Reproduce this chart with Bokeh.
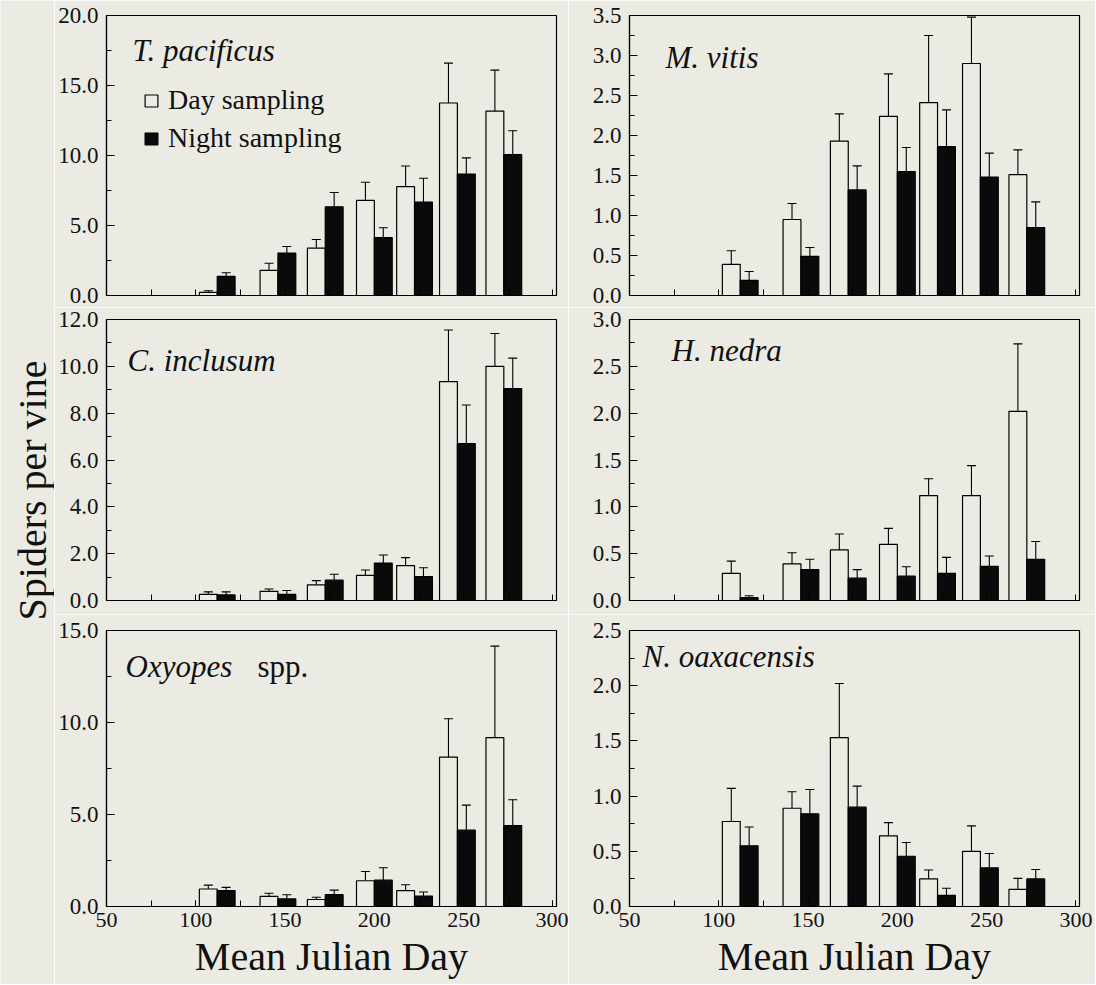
import math
from bokeh.plotting import figure
from bokeh.layouts import row, column
from bokeh.models import (Range1d, SingleIntervalTicker, FixedTicker, PrintfTickFormatter,
                          ColumnDataSource, Whisker, TeeHead, Label, Legend, LegendItem)
from bokeh.embed import file_html
from bokeh.resources import INLINE

# ---------------- data ----------------
julian_day = [112, 146, 172.5, 200, 222.5, 246.5, 272.5]

tp_day = [0.22, 1.79, 3.39, 6.80, 7.77, 13.75, 13.17]
tp_day_se = [0.12, 0.51, 0.61, 1.29, 1.48, 2.85, 2.93]
tp_night = [1.36, 3.03, 6.34, 4.14, 6.68, 8.67, 10.07]
tp_night_se = [0.26, 0.47, 1.02, 0.70, 1.70, 1.16, 1.70]

mv_day = [0.39, 0.95, 1.93, 2.24, 2.41, 2.90, 1.51]
mv_day_se = [0.17, 0.20, 0.34, 0.53, 0.84, 0.58, 0.31]
mv_night = [0.19, 0.49, 1.32, 1.55, 1.86, 1.48, 0.85]
mv_night_se = [0.11, 0.11, 0.30, 0.30, 0.46, 0.30, 0.32]

ci_day = [0.26, 0.39, 0.67, 1.07, 1.49, 9.35, 10.0]
ci_day_se = [0.11, 0.10, 0.18, 0.23, 0.34, 2.20, 1.40]
ci_night = [0.24, 0.26, 0.87, 1.60, 1.02, 6.70, 9.05]
ci_night_se = [0.13, 0.17, 0.25, 0.34, 0.38, 1.65, 1.30]

hn_day = [0.29, 0.39, 0.54, 0.60, 1.12, 1.12, 2.02]
hn_day_se = [0.13, 0.12, 0.17, 0.17, 0.18, 0.32, 0.72]
hn_night = [0.03, 0.33, 0.24, 0.26, 0.29, 0.365, 0.44]
hn_night_se = [0.02, 0.11, 0.09, 0.10, 0.17, 0.11, 0.19]

ox_day = [0.95, 0.55, 0.38, 1.40, 0.86, 8.12, 9.18]
ox_day_se = [0.21, 0.17, 0.12, 0.50, 0.32, 2.08, 4.97]
ox_night = [0.86, 0.41, 0.64, 1.43, 0.57, 4.15, 4.40]
ox_night_se = [0.18, 0.23, 0.25, 0.68, 0.22, 1.36, 1.40]

no_day = [0.77, 0.89, 1.53, 0.64, 0.25, 0.50, 0.155]
no_day_se = [0.30, 0.15, 0.49, 0.12, 0.08, 0.23, 0.10]
no_night = [0.55, 0.84, 0.90, 0.455, 0.10, 0.35, 0.25]
no_night_se = [0.17, 0.22, 0.19, 0.125, 0.065, 0.13, 0.085]

legend_labels = ["Day sampling", "Night sampling"]
x_title = "Mean Julian Day"
y_title = "Spiders per vine"

# ---------------- style ----------------
BG = "#ebebe3"
INK = "#111111"
FONT = "Liberation Serif"
BAR_W = 10
X0, X1 = 50, 302
FRAME_W = 450
PX_PER_DAY = FRAME_W / (X1 - X0)


def make_panel(day_m, day_se, night_m, night_se, ymax, major, width, height,
               bl, br, bt, bb, bottom, title, title_px, title_frac, extra=None):
    p = figure(width=width, height=height, x_range=Range1d(X0, X1), y_range=Range1d(0, ymax),
               output_backend="svg", toolbar_location=None,
               min_border_left=bl, min_border_right=br, min_border_top=bt, min_border_bottom=bb,
               background_fill_color=BG, border_fill_color=BG,
               outline_line_color="black", outline_line_width=1.2)
    p.grid.visible = False
    src = ColumnDataSource(dict(
        xd=[j - BAR_W / 2 for j in julian_day],
        xn=[j + BAR_W / 2 for j in julian_day],
        dm=day_m, dh=[m + s for m, s in zip(day_m, day_se)],
        nm=night_m, nh=[m + s for m, s in zip(night_m, night_se)],
    ))
    rd = p.vbar(x="xd", top="dm", width=BAR_W, bottom=0, source=src,
                fill_color=BG, line_color="black", line_width=1.2)
    rn = p.vbar(x="xn", top="nm", width=BAR_W, bottom=0, source=src,
                fill_color="#0a0a0a", line_color="black", line_width=1.2)
    for base, lo, hi in (("xd", "dm", "dh"), ("xn", "nm", "nh")):
        w = Whisker(source=src, base=base, lower=lo, upper=hi,
                    upper_head=TeeHead(size=9, line_color="black", line_width=1.1),
                    lower_head=None, line_color="black", line_width=1.1)
        p.add_layout(w)

    # y axis
    ya = p.yaxis[0]
    ya.ticker = SingleIntervalTicker(interval=major, num_minor_ticks=2)
    ya.formatter = PrintfTickFormatter(format="%.1f")
    ya.major_tick_in = 8
    ya.major_tick_out = 0
    ya.minor_tick_in = 5
    ya.minor_tick_out = 0
    ya.major_label_text_font = FONT
    ya.major_label_text_font_size = "23px"
    ya.major_label_text_color = INK
    ya.major_label_standoff = 8
    ya.axis_line_color = "black"
    ya.axis_line_width = 1.2
    # x axis
    xa = p.xaxis[0]
    xa.major_tick_in = 6
    xa.major_tick_out = 0
    xa.minor_tick_in = 6
    xa.minor_tick_out = 0
    xa.axis_line_color = "black"
    xa.axis_line_width = 1.2
    if bottom:
        xa.ticker = SingleIntervalTicker(interval=50, num_minor_ticks=2)
        xa.major_label_text_font = FONT
        xa.major_label_text_font_size = "22px"
        xa.major_label_text_color = INK
        xa.major_label_standoff = 6
        xa.axis_label = x_title
        xa.axis_label_text_font = FONT
        xa.axis_label_text_font_size = "40px"
        xa.axis_label_text_font_style = "normal"
        xa.axis_label_text_color = INK
        xa.axis_label_standoff = 4
    else:
        xa.ticker = FixedTicker(ticks=[], minor_ticks=list(range(X0, 301, 25)))

    tx = X0 + title_px / PX_PER_DAY
    ty = ymax * (1 - title_frac)
    p.add_layout(Label(x=tx, y=ty, text=title, text_font=FONT, text_font_size="31px",
                       text_font_style="italic", text_color=INK,
                       text_baseline="alphabetic", text_align="left"))
    if extra is not None:
        ex_text, ex_px = extra
        p.add_layout(Label(x=X0 + ex_px / PX_PER_DAY, y=ty, text=ex_text, text_font=FONT,
                           text_font_size="31px", text_color=INK,
                           text_baseline="alphabetic", text_align="left"))
    return p, rd, rn


TW = 54
LBL, LBR, RBL, RBR = 52, 12, 61, 16
LW = LBL + FRAME_W + LBR
RW = RBL + FRAME_W + RBR
H1 = 15 + 280 + 12
H2 = 12 + 281 + 14
H3 = 16 + 276 + 78

p1, rd1, rn1 = make_panel(tp_day, tp_day_se, tp_night, tp_night_se, 20, 5, LW, H1,
                          LBL, LBR, 15, 12, False, "T. pacificus", 26, 0.125)
p2, _, _ = make_panel(mv_day, mv_day_se, mv_night, mv_night_se, 3.5, 0.5, RW, H1,
                      RBL, RBR, 15, 12, False, "M. vitis", 36, 0.151)
p3, _, _ = make_panel(ci_day, ci_day_se, ci_night, ci_night_se, 12, 2, LW, H2,
                      LBL, LBR, 12, 14, False, "C. inclusum", 21, 0.145)
p4, _, _ = make_panel(hn_day, hn_day_se, hn_night, hn_night_se, 3, 0.5, RW, H2,
                      RBL, RBR, 12, 14, False, "H. nedra", 42, 0.111)
p5, _, _ = make_panel(ox_day, ox_day_se, ox_night, ox_night_se, 15, 5, LW, H3,
                      LBL, LBR, 16, 78, True, "Oxyopes", 19, 0.131, extra=("spp.", 151))
p6, _, _ = make_panel(no_day, no_day_se, no_night, no_night_se, 2.5, 0.5, RW, H3,
                      RBL, RBR, 16, 78, True, "N. oaxacensis", 13, 0.096)

legend = Legend(items=[LegendItem(label=legend_labels[0], renderers=[rd1]),
                       LegendItem(label=legend_labels[1], renderers=[rn1])],
                location=(37, 141), orientation="vertical",
                label_text_font=FONT, label_text_font_size="28px", label_text_color=INK,
                glyph_width=16, glyph_height=15, label_height=25, label_standoff=9,
                spacing=6, padding=0, margin=0, border_line_color=None,
                background_fill_alpha=0)
p1.add_layout(legend)

# y title column
TH = H1 + H2 + H3
pt = figure(width=TW, height=TH, x_range=Range1d(0, TW), y_range=Range1d(0, TH),
            output_backend="svg", toolbar_location=None, min_border=0,
            x_axis_location=None, y_axis_location=None, outline_line_color=None,
            background_fill_color=BG, border_fill_color=BG)
pt.grid.visible = False
pt.add_layout(Label(x=32, y=TH - 490, text=y_title, angle=math.pi / 2, text_align="center",
                    text_baseline="middle", text_font=FONT, text_font_size="40px",
                    text_color=INK))

layout = row(pt, column(row(p1, p2), row(p3, p4), row(p5, p6)))

open("out.html", "w").write(file_html(layout, INLINE))
